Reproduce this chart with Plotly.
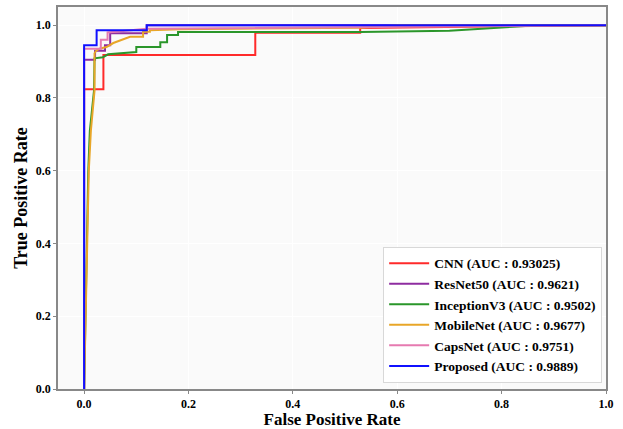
import plotly.graph_objects as go

# ROC curves (FPR, TPR)
cnn_fpr = [0.0, 0.0, 0.037, 0.037, 0.328, 0.328, 0.529, 0.529, 1.0]
cnn_tpr = [0.0, 0.824, 0.824, 0.918, 0.918, 0.979, 0.979, 0.992, 1.0]

resnet_fpr = [0.0, 0.0, 0.021, 0.021, 0.040, 0.040, 0.050, 0.050, 0.120, 0.120, 1.0]
resnet_tpr = [0.0, 0.905, 0.905, 0.930, 0.930, 0.945, 0.945, 0.978, 0.978, 1.0, 1.0]

incep_fpr = [0.0, 0.003, 0.008, 0.011, 0.019, 0.020, 0.036, 0.046, 0.100, 0.100, 0.146, 0.146,
             0.159, 0.159, 0.180, 0.180, 0.530, 0.700, 0.870, 1.0]
incep_tpr = [0.0, 0.272, 0.600, 0.710, 0.820, 0.909, 0.912, 0.920, 0.926, 0.940, 0.940, 0.953,
             0.953, 0.973, 0.973, 0.981, 0.981, 0.985, 1.0, 1.0]

mobile_fpr = [0.0, 0.004, 0.009, 0.013, 0.020, 0.020, 0.024, 0.031, 0.043, 0.056, 0.070, 0.088,
              0.113, 0.113, 0.126, 0.126, 0.184, 0.260, 0.530, 0.600, 1.0]
mobile_tpr = [0.0, 0.270, 0.600, 0.710, 0.820, 0.923, 0.931, 0.936, 0.940, 0.951, 0.959, 0.968,
              0.968, 0.982, 0.982, 0.986, 0.989, 0.990, 0.993, 1.0, 1.0]

caps_fpr = [0.0, 0.0, 0.032, 0.032, 0.045, 0.045, 0.120, 0.550, 1.0]
caps_tpr = [0.0, 0.935, 0.935, 0.960, 0.960, 0.980, 0.990, 0.995, 1.0]

prop_fpr = [0.0, 0.0, 0.024, 0.024, 0.120, 0.120, 1.0]
prop_tpr = [0.0, 0.945, 0.945, 0.986, 0.986, 1.0, 1.0]

names = ["CNN (AUC : 0.93025)", "ResNet50 (AUC : 0.9621)", "InceptionV3 (AUC : 0.9502)",
         "MobileNet (AUC : 0.9677)", "CapsNet (AUC : 0.9751)", "Proposed (AUC : 0.9889)"]
colors = ["#ff2a2a", "#8e2ca0", "#2a962a", "#e8a628", "#e67ab0", "#1010ff"]

tick_vals = [0, 0.2, 0.4, 0.6, 0.8, 1.0]
tick_text = ["0.0", "0.2", "0.4", "0.6", "0.8", "1.0"]

series = [(cnn_fpr, cnn_tpr), (resnet_fpr, resnet_tpr), (incep_fpr, incep_tpr),
          (mobile_fpr, mobile_tpr), (caps_fpr, caps_tpr), (prop_fpr, prop_tpr)]

fig = go.Figure()
for (xs, ys), n, c in zip(series, names, colors):
    fig.add_trace(go.Scatter(x=xs, y=ys, mode="lines", name=n,
                             line=dict(color=c, width=2)))

font_fam = "Liberation Serif"
fig.update_layout(
    width=623, height=429,
    margin=dict(l=58, r=17, t=7, b=40),
    paper_bgcolor="white",
    plot_bgcolor="#fafafa",
    font=dict(family=font_fam, color="black"),
    legend=dict(
        x=0.993, y=0.016, xanchor="right", yanchor="bottom",
        bgcolor="rgba(255,255,255,0.92)", bordercolor="#d8d8d8", borderwidth=1,
        font=dict(family=font_fam, size=13.5, color="black", weight="bold"),
        tracegroupgap=0, itemwidth=40,
    ),
)
common = dict(
    tickvals=tick_vals, ticktext=tick_text,
    showgrid=True, gridcolor="white", zeroline=False,
    showline=True, linecolor="#888888", linewidth=1.5, mirror=True,
    ticks="outside", ticklen=3, tickcolor="#888888", automargin=False,
    tickfont=dict(family=font_fam, size=12, color="black", weight="bold"),
)
fig.update_xaxes(
    range=[-0.05, 1.0], **common,
    title=dict(text="False Positive Rate", standoff=6,
               font=dict(family=font_fam, size=17, color="black", weight="bold")),
)
fig.update_yaxes(
    range=[0, 1.05], **common,
    title=dict(text="True Positive Rate", standoff=4,
               font=dict(family=font_fam, size=18, color="black", weight="bold")),
)
fig.write_html("out.html", config={"displayModeBar": False},
               post_script="document.body.style.margin='0';document.body.style.overflow='hidden';")
